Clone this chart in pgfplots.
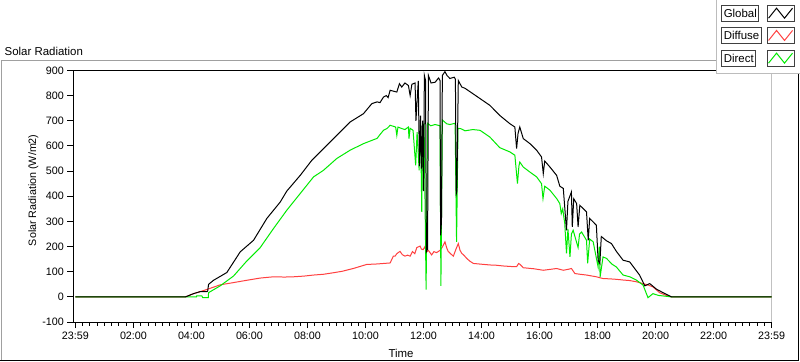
\documentclass[border=0pt]{standalone}
\usepackage{fontspec}
\setmainfont{Liberation Sans}
\usepackage{pgfplots}
\pgfplotsset{compat=1.18}
\definecolor{lvred}{RGB}{255,64,64}
\definecolor{lvgreen}{RGB}{0,235,0}
\definecolor{framegray}{RGB}{160,160,160}
\definecolor{boxgray}{RGB}{64,64,64}
\newcommand{\lvfont}{\fontsize{11.5}{13}\selectfont}
\newcommand{\tkfont}{\fontsize{10.8}{12}\selectfont}
\begin{document}
\begin{tikzpicture}[x=1bp,y=1bp]
\fill[white] (0,0) rectangle (800,361);
% panel frame
\draw[framegray,line width=1bp] (1,1) -- (1,300.5) -- (717,300.5);
\draw[black,line width=1bp] (0,1) -- (799,1) -- (799,288);
% title
\node[anchor=base west,font=\lvfont,inner sep=0] at (4,306) {Solar Radiation};
% axis labels
\node[font=\tkfont,rotate=90] at (33,171) {Solar Radiation (W/m2)};
\node[font=\lvfont] at (401,8) {Time};
\begin{axis}[
  at={(73bp,39bp)}, anchor=south west,
  width=699bp, height=252bp, scale only axis,
  xmin=-0.07, xmax=24, ymin=-100, ymax=900,
  axis x line*=bottom, axis y line*=left,
  axis line style={-,black,line width=1bp},
  xtick={0,2,...,24},
  xticklabels={23:59,02:00,04:00,06:00,08:00,10:00,12:00,14:00,16:00,18:00,20:00,22:00,23:59},
  minor x tick num=7,
  ytick={-100,0,100,200,300,400,500,600,700,800,900},
  yticklabels={-100,0,100,200,300,400,500,600,700,800,900},
  tick align=outside,
  major tick length=6bp, minor tick length=3.5bp,
  tick style={black,line width=0.9bp},
  tick label style={font=\tkfont},
  clip=true,
]
\draw[black,line width=1bp] (rel axis cs:0,1) -- (rel axis cs:1,1);
\draw[framegray,line width=1bp] (rel axis cs:1,0) -- (rel axis cs:1,1);
% Diffuse
\addplot[lvred,line width=1bp,no markers] coordinates {
(0,0) (3.79,0) (4.07,13) (4.30,21) (4.54,30) (4.99,48) (5.45,57) (5.9,66) (6.37,75) (6.83,80)
(7.2,79) (7.52,80) (7.9,83) (8.21,87) (8.55,90) (8.89,96) (9.2,102) (9.58,113) (10.04,129)
(10.4,131) (10.85,135) (10.96,162) (11.02,162) (11.08,172) (11.19,181) (11.27,168) (11.36,162)
(11.45,166) (11.54,162) (11.62,180) (11.70,172) (11.77,196) (11.88,202) (11.93,190) (11.99,188)
(12.05,200) (12.10,178) (12.17,185) (12.28,167) (12.36,180) (12.45,176) (12.57,185) (12.66,200)
(12.74,219) (12.80,195) (12.85,181) (12.95,170) (13.03,162) (13.12,190) (13.20,212) (13.26,185)
(13.32,173) (13.40,165) (13.49,153) (13.60,142) (13.72,133) (14.0,130) (14.29,127) (14.50,126)
(14.75,123) (15.0,121) (15.21,120) (15.28,133) (15.32,130) (15.44,116) (15.8,112) (16.13,106)
(16.40,110) (16.59,113) (16.82,106) (17.0,110) (17.10,113) (17.22,93) (17.40,90) (17.62,87)
(17.96,80) (18.19,73) (18.40,72) (18.65,70) (18.90,67) (19.11,65) (19.35,60) (19.57,53)
(19.75,47) (19.91,40) (20.14,17) (20.35,7) (20.55,0) (24,0)
};
% Direct
\addplot[lvgreen,line width=1bp,no markers] coordinates {
(0,0) (3.79,0) (4.17,0) (4.18,4) (4.36,4) (4.39,-3) (4.58,-3) (4.59,17) (4.99,44) (5.45,83)
(5.91,143) (6.37,196) (6.83,272) (7.29,345) (7.75,411) (8.21,477) (8.55,503) (9.01,550)
(9.47,583) (9.93,609) (10.22,622) (10.40,630) (10.50,645) (10.62,662) (10.75,670) (10.85,682) (11.04,675) (11.08,642) (11.12,675)
(11.25,669) (11.36,665) (11.48,675) (11.50,629) (11.54,670) (11.64,662) (11.73,523) (11.78,655)
(11.85,503) (11.88,640) (11.90,690) (11.94,338) (11.97,650) (12.02,690) (12.09,29) (12.14,690)
(12.25,680) (12.40,685) (12.57,680) (12.60,44) (12.65,703) (12.80,688) (12.91,685) (13.09,690)
(13.14,219) (13.19,670) (13.30,668) (13.43,660) (13.70,665) (13.95,662) (14.29,635) (14.63,593)
(14.98,576) (15.15,563) (15.24,450) (15.29,520) (15.32,536) (15.44,516) (15.67,496) (15.90,477)
(16.07,450) (16.12,391) (16.18,440) (16.36,424) (16.59,391) (16.70,371) (16.75,331) (16.80,350)
(16.87,292) (16.93,173) (16.98,270) (17.05,159) (17.10,250) (17.16,265) (17.33,196) (17.38,250)
(17.45,258) (17.62,225) (17.66,133) (17.73,230) (17.85,219) (18.02,119) (18.06,200) (18.09,80)
(18.19,159) (18.31,153) (18.50,130) (18.65,119) (18.88,87) (19.11,80) (19.34,67) (19.57,47)
(19.74,-3) (19.91,13) (20.10,6) (20.26,4) (20.55,0) (24,0)
};
% Global
\addplot[black,line width=1bp,no markers] coordinates {
(0,0) (3.79,0) (4.07,13) (4.30,21) (4.54,21) (4.56,24) (4.59,50) (4.76,66) (5.22,97) (5.68,179)
(6.14,225) (6.60,312) (7.06,377) (7.29,421) (7.75,483) (8.15,543) (8.55,589) (9.01,642)
(9.47,695) (9.93,728) (10.22,768) (10.40,775) (10.50,772) (10.62,794) (10.72,800) (10.78,792) (10.85,821) (11.08,814) (11.17,847) (11.25,834)
(11.36,850) (11.48,840) (11.54,800) (11.60,845) (11.71,850) (11.74,700) (11.78,780) (11.82,858)
(11.86,520) (11.90,720) (11.93,510) (11.97,700) (12.00,420) (12.03,880) (12.07,860) (12.10,180)
(12.14,190) (12.17,880) (12.26,850) (12.40,853) (12.52,870) (12.57,860) (12.59,245) (12.62,300)
(12.65,880) (12.74,895) (12.81,880) (12.91,868) (13.06,873) (13.10,865) (13.13,410) (13.15,420)
(13.20,860) (13.32,834) (13.43,829) (13.95,788) (14.29,761) (14.63,721) (14.98,688) (15.15,675)
(15.21,589) (15.26,650) (15.32,675) (15.44,629) (15.67,609) (15.90,583) (16.07,556) (16.13,490)
(16.18,540) (16.36,516) (16.59,483) (16.70,440) (16.82,431) (16.93,265) (16.98,380) (17.10,417)
(17.13,278) (17.18,390) (17.28,371) (17.33,278) (17.39,364) (17.62,338) (17.68,225) (17.73,312)
(17.96,285) (18.02,146) (18.08,133) (18.13,240) (18.31,223) (18.48,212) (18.65,181) (18.88,146)
(19.11,139) (19.28,113) (19.45,87) (19.63,44) (19.80,53) (20.03,31) (20.26,17) (20.55,0) (24,0)
};
\end{axis}
% legend area
\fill[white] (717,288) rectangle (800,361);
\draw[framegray!70,line width=1bp] (717,361) -- (717,288) -- (800,288);
\foreach \c/\t/\col in {348.3/Global/black,326/Diffuse/lvred,303.3/Direct/lvgreen}{
  \node[draw=boxgray,line width=1bp,anchor=west,inner xsep=2bp,minimum height=16bp,font=\lvfont] at (721.7,\c) {\t};
  \draw[boxgray,line width=1bp,fill=white] (767.7,\c-8) rectangle (795,\c+8);
  \draw[\col,line width=1bp] (769,\c-5) -- (777,\c+5) -- (785,\c-5) -- (793,\c+5);
}
\end{tikzpicture}
\end{document}
